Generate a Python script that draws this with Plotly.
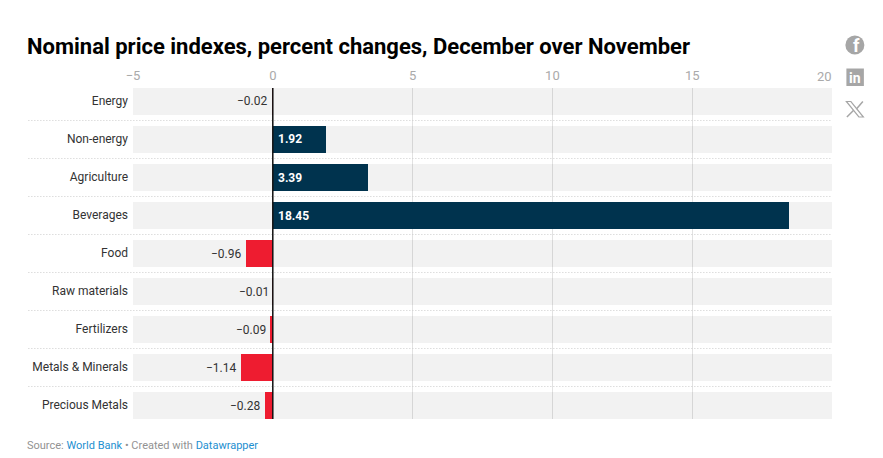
import plotly.graph_objects as go

categories = ["Energy", "Non-energy", "Agriculture", "Beverages", "Food", "Raw materials",
              "Fertilizers", "Metals & Minerals", "Precious Metals"]
values = [-0.02, 1.92, 3.39, 18.45, -0.96, -0.01, -0.09, -1.14, -0.28]
tick_vals = [-5, 0, 5, 10, 15, 20]
tick_text = ["−5", "0", "5", "10", "15", ""]
AXIS_MIN, AXIS_MAX = -5, 20
TITLE = "Nominal price indexes, percent changes, December over November"

OFF = 8  # page's own body margin
W, H = 883 - OFF, 458 - OFF
L, R, T, B = 132.7 - OFF, 832.1 - OFF, 88 - OFF, 419 - OFF
FONT = "Roboto"
NAVY, RED = "#00334e", "#ee1c30"
ICON = "#a6a6a6"


def px(x):
    return (x - OFF - L) / (R - L)


def py(y):
    return (B - (y - OFF)) / (B - T)


fig = go.Figure()
fig.add_bar(y=categories, x=[AXIS_MAX - AXIS_MIN] * len(categories), base=AXIS_MIN, orientation="h",
            width=0.71, marker=dict(color="rgba(0,0,0,0.05)", line_width=0), hoverinfo="skip")
fig.add_bar(y=categories, x=values, orientation="h", width=0.71,
            marker=dict(color=[NAVY if v > 0 else RED for v in values], line_width=0))

annotations = []
for c, v in zip(categories, values):
    if v > 0:
        annotations.append(dict(x=0, y=c, text=f"<b>{v:.2f}</b>", showarrow=False, xanchor="left", xshift=3,
                                font=dict(family=FONT, size=12, color="white")))
    else:
        annotations.append(dict(x=v, y=c, text=f"−{abs(v):.2f}", showarrow=False, xanchor="right", xshift=-2,
                                font=dict(family=FONT, size=12, color="#333333")))

annotations.append(dict(xref="x", yref="paper", x=AXIS_MAX, y=py(76), text="20", showarrow=False,
                        xanchor="right", yanchor="middle", xshift=2, font=dict(family=FONT, size=13, color="#aaaaaa")))
annotations.append(dict(xref="paper", yref="paper", x=px(27), y=py(445), xanchor="left", yanchor="middle",
                        showarrow=False, xshift=-2,
                        text='Source: <span style="color:#1d8fd0">World Bank</span> • Created with '
                             '<span style="color:#1d8fd0">Datawrapper</span>',
                        font=dict(family=FONT, size=11, color="#929292")))
annotations.append(dict(xref="paper", yref="paper", x=px(856.5), y=py(46), xanchor="center", yanchor="middle",
                        text="<b>f</b>", showarrow=False, font=dict(family=FONT, size=18, color="white")))
annotations.append(dict(xref="paper", yref="paper", x=px(855.2), y=py(77.5), xanchor="center", yanchor="middle",
                        text="<b>in</b>", showarrow=False, font=dict(family=FONT, size=14, color="white")))

shapes = []
for i in range(len(categories) - 1):
    shapes.append(dict(type="line", xref="paper", yref="y", x0=px(28), x1=1, y0=i + 0.5, y1=i + 0.5, layer="above",
                       line=dict(color="#cccccc", width=1, dash="1px,2px")))
shapes.append(dict(type="line", xref="x", yref="paper", x0=0, x1=0, y0=0, y1=1, layer="above",
                   line=dict(color="#111111", width=1.5)))
shapes.append(dict(type="circle", xref="paper", yref="paper", x0=px(845.5), x1=px(864.5), y0=py(54.5), y1=py(35.5),
                   fillcolor=ICON, line_width=0, layer="below"))
shapes.append(dict(type="rect", xref="paper", yref="paper", x0=px(846.5), x1=px(864), y0=py(86), y1=py(68.5),
                   fillcolor=ICON, line_width=0, layer="below"))
x_path = (f"M {px(846.5)} {py(101.5)} L {px(851)} {py(101.5)} L {px(863.5)} {py(117)} L {px(859)} {py(117)} Z")
shapes.append(dict(type="path", xref="paper", yref="paper", path=x_path, fillcolor="rgba(0,0,0,0)",
                   line=dict(color=ICON, width=1.2)))
shapes.append(dict(type="line", xref="paper", yref="paper", x0=px(863), x1=px(856.5), y0=py(101.5), y1=py(109),
                   line=dict(color=ICON, width=1.5)))
shapes.append(dict(type="line", xref="paper", yref="paper", x0=px(853.5), x1=px(847), y0=py(110.5), y1=py(117),
                   line=dict(color=ICON, width=1.5)))

fig.update_layout(
    width=W, height=H, autosize=False,
    margin=dict(l=L, r=W - R, t=T, b=H - B, pad=0),
    paper_bgcolor="white", plot_bgcolor="white",
    barmode="overlay", showlegend=False, bargap=0,
    title=dict(text=f"<b>{TITLE}</b>", xref="container", yref="container", x=(27 - OFF) / W, y=1 - (46.3 - OFF) / H,
               xanchor="left", yanchor="middle", pad=dict(l=0, r=0, t=0, b=0),
               font=dict(family=FONT, size=22, color="#000000")),
    xaxis=dict(side="top", range=[AXIS_MIN, AXIS_MAX], tickmode="array", tickvals=tick_vals, ticktext=tick_text,
               showgrid=True, gridcolor="#e2e2e2", gridwidth=1, zeroline=False, showline=False, ticks="",
               tickfont=dict(family=FONT, size=13, color="#aaaaaa"), ticklabelstandoff=4),
    yaxis=dict(autorange=False, range=[8.355, -0.355], categoryorder="array", categoryarray=categories,
               showgrid=False, zeroline=False, showline=False, ticks="",
               tickfont=dict(family=FONT, size=12, color="#333333"), ticklabelstandoff=4, ticklabelshift=1),
    annotations=annotations, shapes=shapes,
)
fig.write_html("out.html")
